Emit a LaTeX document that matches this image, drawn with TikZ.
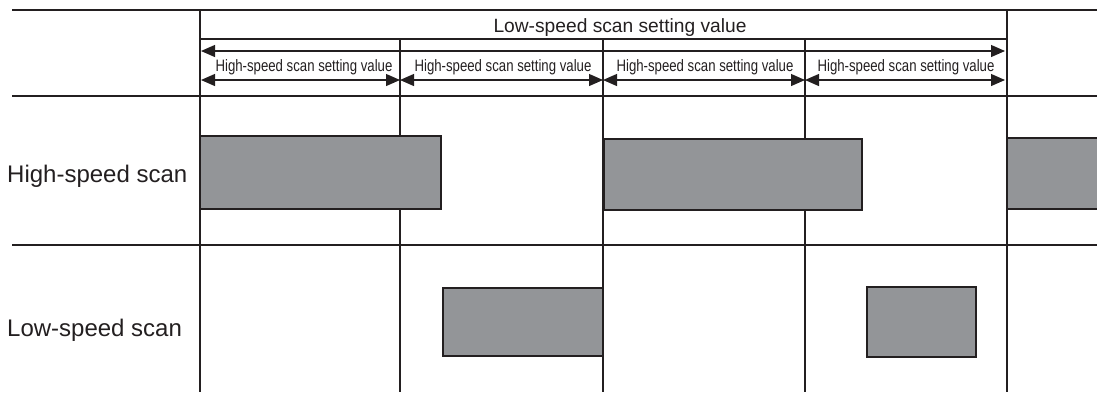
\documentclass[tikz,border=0pt]{standalone}
\usepackage{fontspec}
\setmainfont{Liberation Sans}
\usetikzlibrary{arrows.meta}
\definecolor{ink}{HTML}{231F20}
\definecolor{boxgray}{HTML}{939598}
\begin{document}
\begin{tikzpicture}[x=1pt,y=-1pt,
  grid/.style={draw=ink,line width=2.2pt},
  hair/.style={draw=ink,line width=1.3pt},
  dim/.style={draw=ink,line width=1.2pt,{Triangle[length=14pt,width=12pt]}-{Triangle[length=14pt,width=12pt]}},
  bar/.style={draw=ink,fill=boxgray,line width=2.2pt},
  bigl/.style={font=\fontsize{24}{28}\selectfont,text=ink,inner sep=0pt,anchor=base west},
  titl/.style={font=\fontsize{19.2}{22}\selectfont,text=ink,inner sep=0pt,anchor=base},
  segl/.style={font=\fontsize{16.5}{19}\selectfont,text=ink,inner sep=0pt,anchor=base}
]
\useasboundingbox (0,0) rectangle (1097,392);
% grid coordinates
\coordinate (L1) at (12,10);   \coordinate (R1) at (1097,10);
\coordinate (L2) at (12,96);   \coordinate (R2) at (1097,96);
\coordinate (L3) at (12,245);  \coordinate (R3) at (1097,245);
\coordinate (H0) at (200,39);  \coordinate (H4) at (1007,39);
\coordinate (T0) at (200,10);  \coordinate (B0) at (200,392);
\coordinate (T1) at (400,39);  \coordinate (B1) at (400,392);
\coordinate (T2) at (603,39);  \coordinate (B2) at (603,392);
\coordinate (T3) at (805,39);  \coordinate (B3) at (805,392);
\coordinate (T4) at (1007,10); \coordinate (B4) at (1007,392);
% grid
\draw[grid] (L1) -- (R1);
\draw[grid] (L2) -- (R2);
\draw[grid] (L3) -- (R3);
\draw[hair] (H0) -- (H4);
\draw[grid] (T0) -- (B0);
\draw[grid] (T1) -- (B1);
\draw[grid] (T2) -- (B2);
\draw[grid] (T3) -- (B3);
\draw[grid] (T4) -- (B4);
% dimension arrows
\coordinate (A0) at (201,51); \coordinate (A4) at (1005,51);
\draw[dim] (A0) -- (A4);
\coordinate (D0) at (201,80); \coordinate (D1) at (400,80);
\coordinate (D2) at (603,80); \coordinate (D3) at (805,80);
\coordinate (D4) at (1005,80);
\draw[dim] (D0) -- (D1);
\draw[dim] (D1) -- (D2);
\draw[dim] (D2) -- (D3);
\draw[dim] (D3) -- (D4);
% labels
\node[titl] (lsv) at (620,32) {Low-speed scan setting value};
\node[segl] (s1) at (304,71) {\scalebox{0.8}[1]{High-speed scan setting value}};
\node[segl] (s2) at (503,71) {\scalebox{0.8}[1]{High-speed scan setting value}};
\node[segl] (s3) at (705,71) {\scalebox{0.8}[1]{High-speed scan setting value}};
\node[segl] (s4) at (906,71) {\scalebox{0.8}[1]{High-speed scan setting value}};
\node[bigl] (hs) at (7,182) {High-speed scan};
\node[bigl] (ls) at (7,336) {Low-speed scan};
% bars
\draw[bar] (200,136) rectangle (441,209);
\draw[bar] (604,139) rectangle (862,210);
\fill[boxgray] (1007,138) rectangle (1097,209);
\draw[grid] (1097,138) -- (1007,138) -- (1007,209) -- (1097,209);
\draw[bar] (443,288) rectangle (603,356);
\draw[bar] (867,287) rectangle (976,357);
\end{tikzpicture}
\end{document}
